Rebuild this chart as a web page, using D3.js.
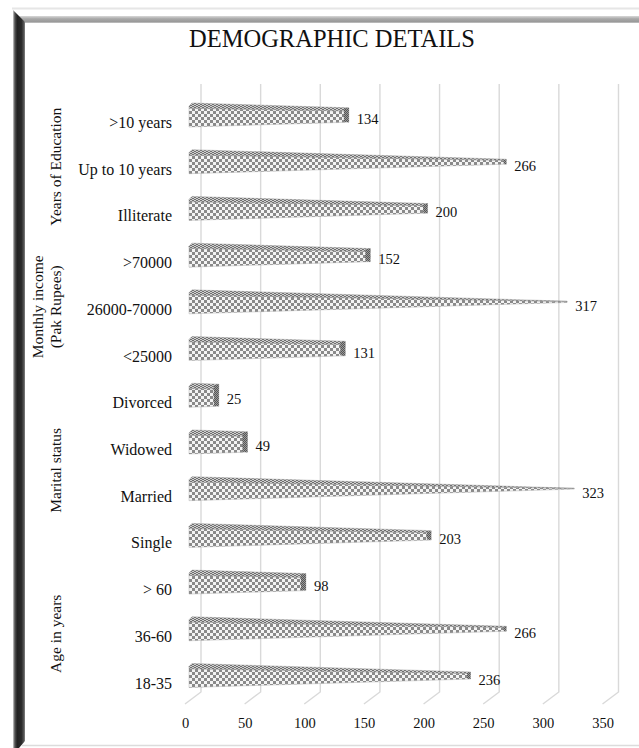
<!DOCTYPE html>
<html>
<head>
<meta charset="utf-8">
<script src="https://cdn.jsdelivr.net/npm/d3@7/dist/d3.min.js"></script>
<style>
html,body{margin:0;padding:0;background:#fff;}
svg{display:block;}
text{font-family:"Liberation Serif","Times New Roman",serif;fill:#111;}
</style>
</head>
<body>
<svg id="chart" width="639" height="748"></svg>
<script>
// ---- data ----
const categories = [">10 years","Up to 10 years","Illiterate",">70000","26000-70000","<25000","Divorced","Widowed","Married","Single","> 60","36-60","18-35"];
const values = [134,266,200,152,317,131,25,49,323,203,98,266,236];
const groups = [
  {lines:["Years of Education"], from:0, to:2},
  {lines:["Monthly income","(Pak Rupees)"], from:3, to:5},
  {lines:["Marital status"], from:6, to:9},
  {lines:["Age in years"], from:10, to:12}
];
const tickValues = [0,50,100,150,200,250,300,350];
const title = "DEMOGRAPHIC DETAILS";

const svg = d3.select("#chart");
const W = 639, H = 748;

// ---- defs ----
const defs = svg.append("defs");
const lg = defs.append("linearGradient").attr("id","leftBand").attr("x1","0").attr("x2","1").attr("y1","0").attr("y2","0");
[[0,"#d0d0d0"],[0.15,"#555"],[0.35,"#222"],[0.7,"#2a2a2a"],[0.9,"#555"],[1,"#888"]].forEach(s=>lg.append("stop").attr("offset",s[0]).attr("stop-color",s[1]));
const tg = defs.append("linearGradient").attr("id","topBand").attr("x1","0").attr("x2","0").attr("y1","0").attr("y2","1");
[[0,"#d8d8d8"],[0.4,"#a8a8a8"],[0.8,"#9a9a9a"],[1,"#c8c8c8"]].forEach(s=>tg.append("stop").attr("offset",s[0]).attr("stop-color",s[1]));

const pf = defs.append("pattern").attr("id","checkFront").attr("patternUnits","userSpaceOnUse").attr("width",6).attr("height",6);
pf.append("rect").attr("width",6).attr("height",6).attr("fill","#f4f4f4");
pf.append("rect").attr("width",3).attr("height",3).attr("fill","#8a8a8a");
pf.append("rect").attr("x",3).attr("y",3).attr("width",3).attr("height",3).attr("fill","#8a8a8a");

const pt = defs.append("pattern").attr("id","checkTop").attr("patternUnits","userSpaceOnUse").attr("width",4).attr("height",2);
pt.append("rect").attr("width",4).attr("height",2).attr("fill","#cfcfcf");
pt.append("rect").attr("width",2).attr("height",1).attr("fill","#6f6f6f");
pt.append("rect").attr("x",2).attr("y",1).attr("width",2).attr("height",1).attr("fill","#6f6f6f");

const pe = defs.append("pattern").attr("id","checkEnd").attr("patternUnits","userSpaceOnUse").attr("width",2).attr("height",2);
pe.append("rect").attr("width",2).attr("height",2).attr("fill","#9a9a9a");
pe.append("rect").attr("width",1).attr("height",1).attr("fill","#555");
pe.append("rect").attr("x",1).attr("y",1).attr("width",1).attr("height",1).attr("fill","#555");

// ---- frame ----
svg.append("rect").attr("x",0).attr("y",0).attr("width",W).attr("height",H).attr("fill","#fff");
svg.append("line").attr("x1",12).attr("x2",W).attr("y1",8.5).attr("y2",8.5).attr("stroke","#e6e6e6").attr("stroke-width",2);
svg.append("polygon").attr("points",[[19,16],[W,16],[W,23],[25,23]].join(" ")).attr("fill","url(#topBand)");
svg.append("line").attr("x1",22).attr("x2",W).attr("y1",745.5).attr("y2",745.5).attr("stroke","#dcdcdc").attr("stroke-width",1.5);
svg.append("polygon").attr("points",[[13,10],[25,22],[25,741],[19,748],[13,748]].join(" ")).attr("fill","url(#leftBand)");

// ---- scales ----
const x = d3.scaleLinear().domain([0,350]).range([189,606.5]);
const y = d3.scalePoint().domain(categories).range([115,675.5]);
const backOff = 12, gridTop = 84, gridBot = 692;

// ---- title ----
svg.append("text").attr("x",332).attr("y",47).attr("text-anchor","middle").style("font-size","24.5px").text(title);

// ---- gridlines (back wall + floor) ----
const grid = svg.append("g");
tickValues.forEach(v=>{
  const gx = x(v)+backOff;
  grid.append("path")
    .attr("d",`M${gx},${gridTop}L${gx},${gridBot}L${gx-16},${gridBot+12}`)
    .attr("fill","none").attr("stroke","#d9d9d9").attr("stroke-width",1.4);
});

// ---- axis tick labels ----
const axisG = svg.append("g").attr("transform",`translate(-4,${gridBot+36})`);
const axis = d3.axisBottom(x).tickValues(tickValues).tickSize(0).tickPadding(0);
axisG.call(axis);
axisG.select(".domain").remove();
axisG.selectAll("text").attr("fill","#111").attr("dy","0").style("font-size","14.5px").style("font-family",'"Liberation Serif","Times New Roman",serif');

// ---- bars ----
const H0 = 12, L = 400, minF = 0.03, topFrac = 0.22;
function half(px){ return H0*Math.max(minF, 1-(px-x(0))/L); }
const barsG = svg.append("g");
categories.forEach((c,i)=>{
  const v = values[i];
  const cy = y(c);
  const x0 = x(0), x1 = x(v);
  const h0 = half(x0), h1 = half(x1);
  const t0 = cy-h0, b0 = cy+h0, t1 = cy-h1, b1 = cy+h1;
  const m0 = t0+2*h0*topFrac, m1 = t1+2*h1*topFrac;
  // front face
  barsG.append("polygon").attr("points",[[x0,m0],[x1,m1],[x1,b1],[x0,b0]].join(" "))
    .attr("fill","url(#checkFront)").attr("stroke","#a0a0a0").attr("stroke-width",0.4);
  // top face
  barsG.append("polygon").attr("points",[[x0+3,t0],[x1,t1],[x1,m1],[x0,m0],[x0,t0+3]].join(" "))
    .attr("fill","url(#checkTop)").attr("stroke","#8a8a8a").attr("stroke-width",0.4);
  // end face
  const ew = Math.min(5, 2*h1*0.35+1);
  if (2*h1 > 3) {
    barsG.append("polygon").attr("points",[[x1-ew,t1+1],[x1,t1],[x1,b1],[x1-ew,b1-0.5]].join(" "))
      .attr("fill","url(#checkEnd)");
  }
  // value label
  svg.append("text").attr("x",x1+8).attr("y",cy+9).style("font-size","14.5px").text(v);
});

// ---- category labels ----
svg.append("g").selectAll("text").data(categories).join("text")
  .attr("x",172).attr("y",d=>y(d)+13).attr("text-anchor","end").style("font-size","16px").text(d=>d);

// ---- group labels ----
groups.forEach(g=>{
  const cy = (y(categories[g.from])+y(categories[g.to]))/2 + 5;
  const n = g.lines.length;
  const t = svg.append("text").attr("transform",`translate(61,${cy}) rotate(-90)`)
    .attr("text-anchor","middle").style("font-size","15.5px");
  g.lines.forEach((ln,k)=>{
    t.append("tspan").attr("x",0).attr("y",-(n-1-k)*18).text(ln);
  });
});
</script>
</body>
</html>
